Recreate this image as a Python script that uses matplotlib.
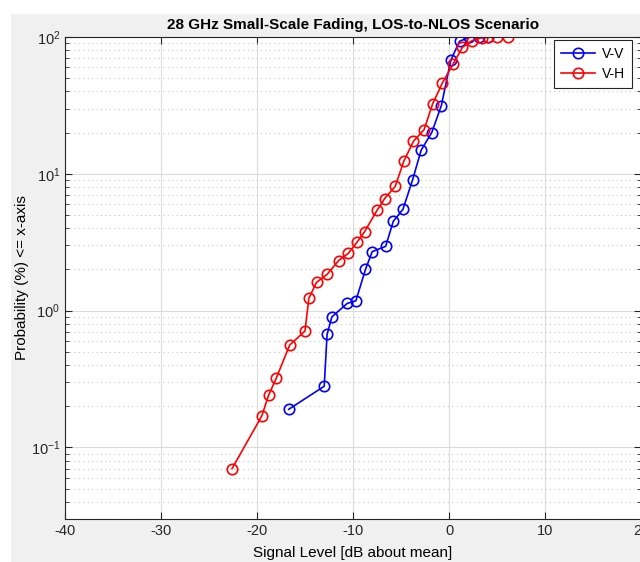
import matplotlib
matplotlib.use('Agg')
import matplotlib.pyplot as plt
from matplotlib.patches import Rectangle
from matplotlib.ticker import LogLocator, NullFormatter

plt.rcParams['font.family'] = ['Liberation Sans', 'DejaVu Sans']
plt.rcParams['axes.unicode_minus'] = False

# V-V curve
vv_x = [-16.7, -13.0, -12.7, -12.2, -10.6, -9.7, -8.7, -8.0, -6.6, -5.8,
        -4.8, -3.8, -2.9, -1.8, -0.8, 0.2, 1.1, 2.1, 3.1, 4.1]
vv_y = [0.19, 0.28, 0.67, 0.90, 1.13, 1.18, 2.0, 2.7, 2.95, 4.5,
        5.5, 9.0, 14.9, 20, 31.5, 68, 93, 99.5, 100, 100]

# V-H curve
vh_x = [-22.6, -19.5, -18.8, -18.0, -16.6, -15.0, -14.6, -13.8, -12.7, -11.5,
        -10.5, -9.6, -8.8, -7.5, -6.7, -5.6, -4.7, -3.7, -2.6, -1.7,
        -0.7, 0.4, 1.4, 2.4, 3.4, 4.1, 5.0, 6.1]
vh_y = [0.07, 0.17, 0.24, 0.32, 0.56, 0.71, 1.23, 1.61, 1.84, 2.32,
        2.62, 3.15, 3.77, 5.4, 6.6, 8.1, 12.4, 17.3, 21, 32.5,
        46, 63, 84, 94, 98.8, 99.5, 100, 100]

W, H = 640, 562
fig = plt.figure(figsize=(W / 100, H / 100), dpi=100, facecolor='white')
# matlab style gray figure area
fig.patches.append(Rectangle((11 / W, 0), 1, (H - 14) / H, transform=fig.transFigure,
                             facecolor='#f0f0f0', edgecolor='none', zorder=-10))

left, right, top, bottom = 65, 641, 37, 519
ax = fig.add_axes([left / W, (H - bottom) / H, (right - left) / W, (bottom - top) / H])
ax.set_facecolor('white')

ax.plot(vv_x, vv_y, '-o', color='#0000ff', lw=1.2, ms=7.5, mfc='none', mew=1.2, label='V-V')
ax.plot(vh_x, vh_y, '-o', color='#ff0000', lw=1.2, ms=7.5, mfc='none', mew=1.2, label='V-H')

ax.set_yscale('log')
ax.set_xlim(-40, 20)
ax.set_ylim(0.03, 100)
ax.set_xticks(range(-40, 21, 10))
ax.yaxis.set_minor_locator(LogLocator(base=10, subs=range(2, 10)))
ax.yaxis.set_minor_formatter(NullFormatter())

ax.grid(True, which='major', color='#dcdcdc', lw=0.8, ls='-')
ax.grid(True, which='minor', axis='y', color='#c8c8c8', lw=0.8, ls=(0, (1, 3)))
ax.set_axisbelow(True)

for s in ax.spines.values():
    s.set_color('#262626')
    s.set_linewidth(0.8)
ax.tick_params(which='both', direction='in', top=True, right=True, colors='#262626',
               labelsize=10.5)
ax.tick_params(which='major', length=5)
ax.tick_params(which='minor', length=3)

ax.set_title('28 GHz Small-Scale Fading, LOS-to-NLOS Scenario', fontsize=11,
             fontweight='bold', pad=6)
ax.set_xlabel('Signal Level [dB about mean]', fontsize=11, labelpad=5.5)
ax.set_ylabel('Probability (%) <= x-axis', fontsize=11, labelpad=1)

leg = ax.legend(loc='upper right', bbox_to_anchor=(0.984, 0.994), borderaxespad=0,
                fontsize=10, fancybox=False, edgecolor='#262626', framealpha=1,
                handlelength=2.4, borderpad=0.5, labelspacing=0.45, handletextpad=0.5)
leg.get_frame().set_linewidth(0.8)

fig.savefig('out.png', dpi=100, facecolor=fig.get_facecolor())
